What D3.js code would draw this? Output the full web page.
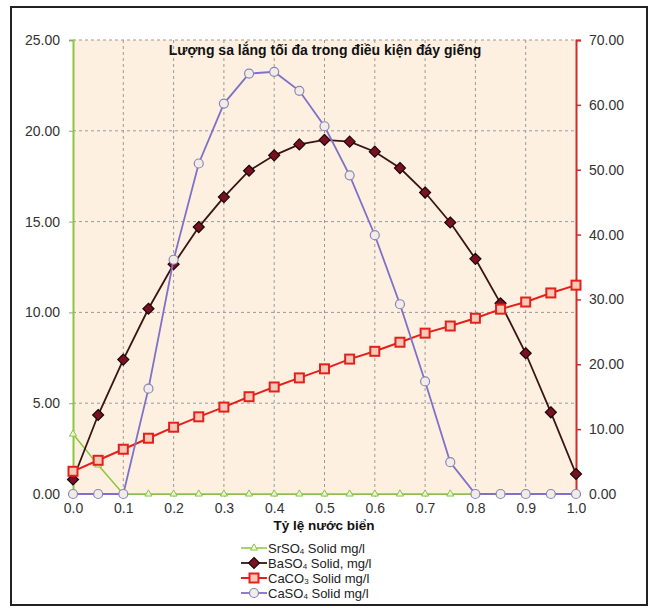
<!DOCTYPE html>
<html><head><meta charset="utf-8">
<script src="https://cdn.jsdelivr.net/npm/d3@7"></script>
<style>body{margin:0;background:#fff}svg{display:block;font-family:"Liberation Sans",Arial,sans-serif}</style>
</head><body><svg id="c" width="651" height="608"></svg>
<script>
const xValues = [0,0.05,0.1,0.15,0.2,0.25,0.3,0.35,0.4,0.45,0.5,0.55,0.6,0.65,0.7,0.75,0.8,0.85,0.9,0.95,1.0];
const srso4 = [3.3,1.6,0,0,0,0,0,0,0,0,0,0,0,0,0,0,0,0,0,0,0];
const baso4 = [0.8,4.35,7.4,10.2,12.65,14.7,16.35,17.8,18.65,19.25,19.5,19.4,18.85,17.95,16.6,14.95,12.95,10.5,7.75,4.5,1.1];
const caco3 = [3.5,5.2,6.9,8.6,10.3,11.9,13.4,15.0,16.5,17.9,19.3,20.8,22.0,23.4,24.8,25.9,27.1,28.5,29.6,31.0,32.2];
const caso4 = [0,0,0,5.8,12.9,18.2,21.5,23.15,23.25,22.2,20.25,17.55,14.25,10.45,6.2,1.75,0,0,0,0,0];
const leftTicks = [0,5,10,15,20,25];
const rightTicks = [0,10,20,30,40,50,60,70];
const xTicks = [0,0.1,0.2,0.3,0.4,0.5,0.6,0.7,0.8,0.9,1.0];
const title = "Lượng sa lắng tối đa trong điều kiện đáy giếng";
const xTitle = "Tỷ lệ nước biển";
const legendItems = [
  {base:"SrSO", sub:"4", rest:" Solid mg/l", key:"sr"},
  {base:"BaSO", sub:"4", rest:" Solid, mg/l", key:"ba"},
  {base:"CaCO", sub:"3", rest:" Solid mg/l", key:"cc"},
  {base:"CaSO", sub:"4", rest:" Solid mg/l", key:"cs"}
];

const svg = d3.select("#c");
const L=73, R=576, T=40, B=494;
const x = d3.scaleLinear().domain([0,1]).range([L,R]);
const yL = d3.scaleLinear().domain([0,25]).range([B,T]);
const yR = d3.scaleLinear().domain([0,70]).range([B,T]);

svg.append("rect").attr("x",11).attr("y",7).attr("width",636).attr("height",598)
  .attr("fill","#fff").attr("stroke","#222").attr("stroke-width",2);
svg.append("rect").attr("x",L).attr("y",T).attr("width",R-L).attr("height",B-T).attr("fill","#fdf0e1");

const g = svg.append("g");
g.selectAll("line.h").data(leftTicks.filter(d=>d>0)).enter().append("line")
  .attr("x1",L).attr("x2",R).attr("y1",d=>yL(d)).attr("y2",d=>yL(d))
  .attr("stroke","#9a9a9a").attr("stroke-dasharray","3,3").attr("stroke-width",1);
g.selectAll("line.v").data(xTicks.filter(d=>d>0&&d<1)).enter().append("line")
  .attr("y1",T).attr("y2",B).attr("x1",d=>x(d)).attr("x2",d=>x(d))
  .attr("stroke","#9a9a9a").attr("stroke-dasharray","3,3").attr("stroke-width",1);

const xa = svg.append("g").attr("transform",`translate(0,${B})`)
  .call(d3.axisBottom(x).tickValues(xTicks).tickFormat(d3.format(".1f")).tickSize(3).tickPadding(6));
xa.select(".domain").attr("stroke","#999");
xa.selectAll(".tick line").attr("stroke","#999");
xa.selectAll("text").attr("font-size",14).attr("fill","#333");

const la = svg.append("g").attr("transform",`translate(${L},0)`)
  .call(d3.axisLeft(yL).tickValues(leftTicks).tickFormat(d3.format(".2f")).tickSize(4).tickPadding(9));
la.select(".domain").attr("stroke","#8cc63f").attr("stroke-width",2);
la.selectAll(".tick line").attr("stroke","#999");
la.selectAll("text").attr("font-size",14).attr("fill","#333");

const ra = svg.append("g").attr("transform",`translate(${R},0)`)
  .call(d3.axisRight(yR).tickValues(rightTicks).tickFormat(d3.format(".2f")).tickSize(5).tickPadding(8));
ra.select(".domain").attr("stroke","#d42a2a").attr("stroke-width",2);
ra.selectAll(".tick line").attr("stroke","#d42a2a").attr("stroke-width",1.5);
ra.selectAll("text").attr("font-size",14).attr("fill","#333");

svg.append("text").attr("x",325).attr("y",55).attr("text-anchor","middle")
  .attr("font-size",14).attr("font-weight","bold").attr("fill","#111").text(title);
svg.append("text").attr("x",324).attr("y",530).attr("text-anchor","middle")
  .attr("font-size",13.5).attr("font-weight","bold").attr("fill","#111").text(xTitle);

const styles = {
  sr:{data:srso4, y:yL, line:"#8cc63f", w:1.5},
  ba:{data:baso4, y:yL, line:"#3a1414", w:1.8},
  cc:{data:caco3, y:yR, line:"#e3201b", w:2},
  cs:{data:caso4, y:yL, line:"#7f70c8", w:1.8}
};
function marker(sel, key){
  if(key==="sr"){
    sel.append("path").attr("d",d3.symbol(d3.symbolTriangle,22)()).attr("fill","#eaf5dc").attr("stroke","#8cc63f").attr("stroke-width",1);
  } else if(key==="ba"){
    sel.append("path").attr("d","M0,-5.5L5.5,0L0,5.5L-5.5,0Z").attr("fill","#7a1022").attr("stroke","#1a0808").attr("stroke-width",1.2);
  } else if(key==="cc"){
    sel.append("rect").attr("x",-4.5).attr("y",-4.5).attr("width",9).attr("height",9).attr("fill","#f6c9b8").attr("stroke","#e3201b").attr("stroke-width",2);
  } else {
    sel.append("circle").attr("r",4.5).attr("fill","#f2ece6").attr("stroke","#8a86b8").attr("stroke-width",1.2);
  }
}
["sr","ba","cc","cs"].forEach(k=>{
  const s = styles[k];
  const pts = xValues.map((xv,i)=>[xv,s.data[i]]);
  svg.append("path").datum(pts).attr("fill","none").attr("stroke",s.line).attr("stroke-width",s.w)
    .attr("d",d3.line().x(d=>x(d[0])).y(d=>s.y(d[1])));
  svg.append("g").selectAll("g").data(pts).enter().append("g")
    .attr("transform",d=>`translate(${x(d[0])},${s.y(d[1])})`)
    .each(function(){ marker(d3.select(this),k); });
});

const lg = svg.append("g");
legendItems.forEach((it,i)=>{
  const yy = 548 + i*15;
  const s = styles[it.key];
  lg.append("line").attr("x1",241).attr("x2",267).attr("y1",yy).attr("y2",yy).attr("stroke",s.line).attr("stroke-width",s.w);
  const m = lg.append("g").attr("transform",`translate(254,${yy})`);
  marker(m,it.key);
  const t = lg.append("text").attr("x",268).attr("y",yy+4.5).attr("font-size",13).attr("fill","#222");
  t.append("tspan").text(it.base);
  t.append("tspan").attr("font-size",8).attr("dy",1.5).text(it.sub);
  t.append("tspan").attr("dy",-1.5).text(it.rest);
});
</script></body></html>
